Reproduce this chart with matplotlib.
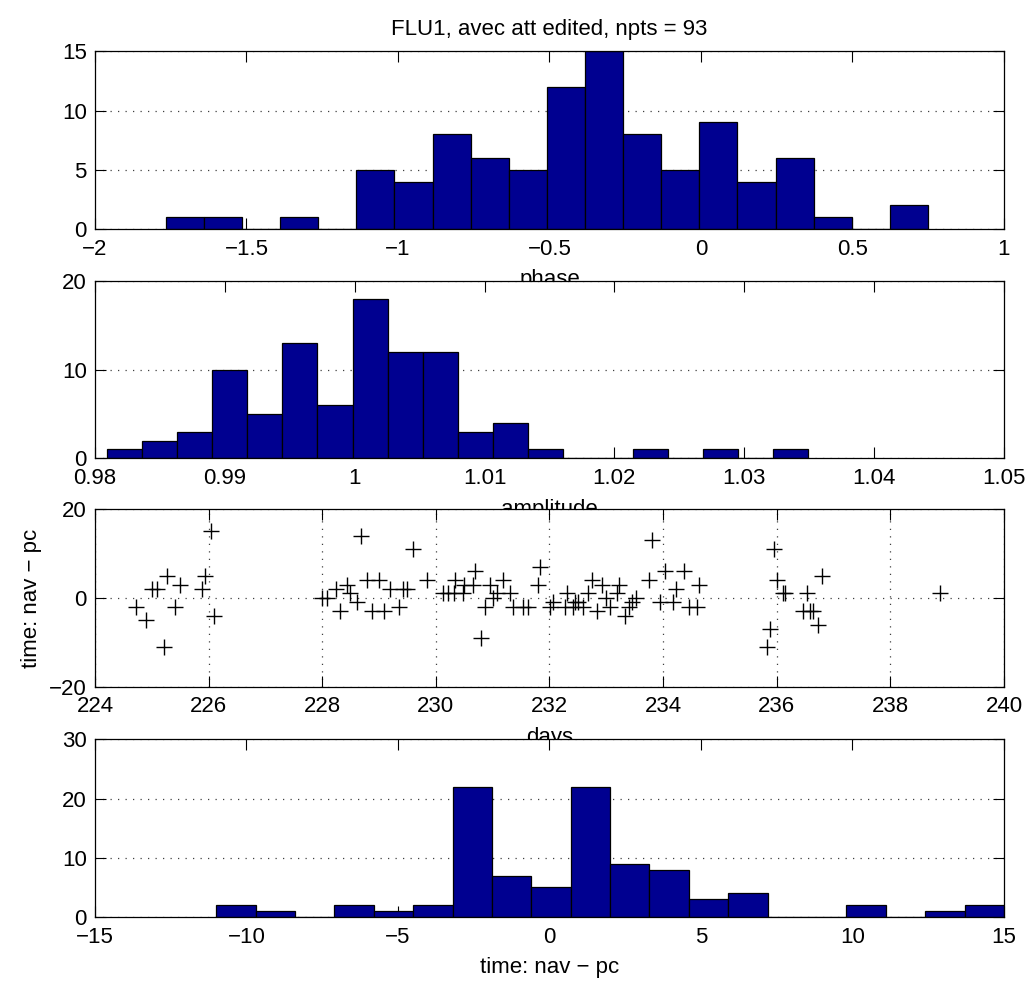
import numpy as np
import matplotlib
matplotlib.use("Agg")
import matplotlib.pyplot as plt
from matplotlib.ticker import FuncFormatter

plt.rcParams['font.family'] = ['Liberation Sans', 'DejaVu Sans']
plt.rcParams['font.size'] = 16

# phase histogram (20 bins between data min and max)
phase_range = (-1.766, 0.749)
phase_counts = [1, 1, 0, 1, 0, 5, 4, 8, 6, 5, 12, 15, 8, 5, 9, 4, 6, 1, 0, 2]

# amplitude histogram
amp_range = (0.98095, 1.0349)
amp_counts = [1, 2, 3, 10, 5, 13, 6, 18, 12, 12, 3, 4, 1, 0, 0, 1, 0, 1, 0, 1]

# time offset per day
days = [224.73, 224.90, 225.00, 225.09, 225.21, 225.27, 225.40, 225.50, 225.89, 225.94,
        226.04, 226.09,
        228.00, 228.08, 228.25, 228.31, 228.43, 228.49, 228.62, 228.69, 228.78, 228.87,
        229.00, 229.08, 229.19, 229.35, 229.43, 229.50, 229.60, 229.84, 230.13, 230.22,
        230.32, 230.34, 230.47, 230.50,
        230.66, 230.69, 230.79, 230.87, 230.95, 231.01, 231.08, 231.19, 231.30, 231.36,
        231.54, 231.63, 231.80, 231.83, 232.01, 232.07, 232.27, 232.30, 232.42, 232.45,
        232.51, 232.59, 232.68, 232.74, 232.83, 232.92, 232.99, 233.07, 233.18, 233.23,
        233.33, 233.40,
        233.45, 233.53, 233.75, 233.81, 233.95, 234.03, 234.18, 234.23, 234.37, 234.45,
        234.59, 234.64,
        235.82, 235.88, 235.95, 236.01, 236.11, 236.15, 236.47, 236.53, 236.59, 236.64,
        236.73, 236.80, 238.88]
dt = [-2, -5, 2, 2, -11, 5, -2, 3, 2, 5,
      15, -4,
      0, 0, 2, -3, 3, 1, -1, 14, 4, -3,
      4, -3, 2, -2, 2, 2, 11, 4, 1, 1,
      1, 4, 1, 3,
      3, 6, -9, -2, 3, 0, 1, 4, 1, -2,
      -2, -2, 3, 7, -2, -1, -2, 1, -2, -1,
      -1, -2, 1, 4, -3, 3, 0, -2, 1, 3,
      -4, -2,
      -1, 0, 4, 13, -1, 6, -1, 2, 6, -2,
      -2, 3,
      -11, -7, 11, 4, 1, 1, -3, 1, -3, -3,
      -6, 5, 1]

# histogram of the time offsets
dt_range = (-11, 15)
dt_counts = [2, 1, 0, 2, 1, 2, 22, 7, 5, 22, 9, 8, 3, 4, 0, 0, 2, 0, 1, 2]

bar_color = '#000090'
fmt = FuncFormatter(lambda v, p: ('%g' % v).replace('-', '\u2212'))


def style(ax, xgrid=False):
    ax.tick_params(direction='in', length=8, top=True, right=True, width=0.8,
                   labelsize=16)
    ax.tick_params(axis='x', pad=7)
    ax.tick_params(axis='y', pad=6)
    ax.grid(True, axis='both' if xgrid else 'y', linestyle=(0, (1, 5)),
            color='0.25', linewidth=0.9)
    ax.set_axisbelow(True)
    ax.xaxis.set_major_formatter(fmt)
    ax.yaxis.set_major_formatter(fmt)
    for s in ax.spines.values():
        s.set_linewidth(0.9)


def hist_bars(ax, rng, counts):
    edges = np.linspace(rng[0], rng[1], len(counts) + 1)
    ax.bar(edges[:-1], counts, width=np.diff(edges), align='edge',
           color=bar_color, edgecolor='black', linewidth=0.9)


fig = plt.figure(figsize=(10.29, 9.81), dpi=100)
left, width, height = 0.0923, 0.8834, 0.181

ax1 = fig.add_axes([left, 0.7666, width, height])
hist_bars(ax1, phase_range, phase_counts)
ax1.set_xlim(-2, 1)
ax1.set_ylim(0, 15)
ax1.set_xticks(np.arange(-2, 1.01, 0.5))
ax1.set_yticks([0, 5, 10, 15])
ax1.set_xlabel('phase', labelpad=7)
ax1.set_title('FLU1, avec att edited, npts = 93', fontsize=16, pad=12)
style(ax1)

ax2 = fig.add_axes([left, 0.5328, width, height])
hist_bars(ax2, amp_range, amp_counts)
ax2.set_xlim(0.98, 1.05)
ax2.set_ylim(0, 20)
ax2.set_xticks(np.arange(0.98, 1.0501, 0.01))
ax2.set_yticks([0, 10, 20])
ax2.set_xlabel('amplitude', labelpad=7)
style(ax2)

ax3 = fig.add_axes([left, 0.3, width, height])
ax3.plot(days, dt, linestyle='none', marker='+', color='black',
         markersize=12, markeredgewidth=1.0)
ax3.set_xlim(224, 240)
ax3.set_ylim(-20, 20)
ax3.set_xticks(np.arange(224, 240.1, 2))
ax3.set_yticks([-20, 0, 20])
ax3.set_xlabel('days', labelpad=7)
ax3.set_ylabel('time: nav \u2212 pc', labelpad=5)
style(ax3, xgrid=True)

ax4 = fig.add_axes([left, 0.0652, width, height])
hist_bars(ax4, dt_range, dt_counts)
ax4.set_xlim(-15, 15)
ax4.set_ylim(0, 30)
ax4.set_xticks(np.arange(-15, 15.1, 5))
ax4.set_yticks([0, 10, 20, 30])
ax4.set_xlabel('time: nav \u2212 pc', labelpad=7)
style(ax4)

fig.savefig('out.png', dpi=100, facecolor='white')
